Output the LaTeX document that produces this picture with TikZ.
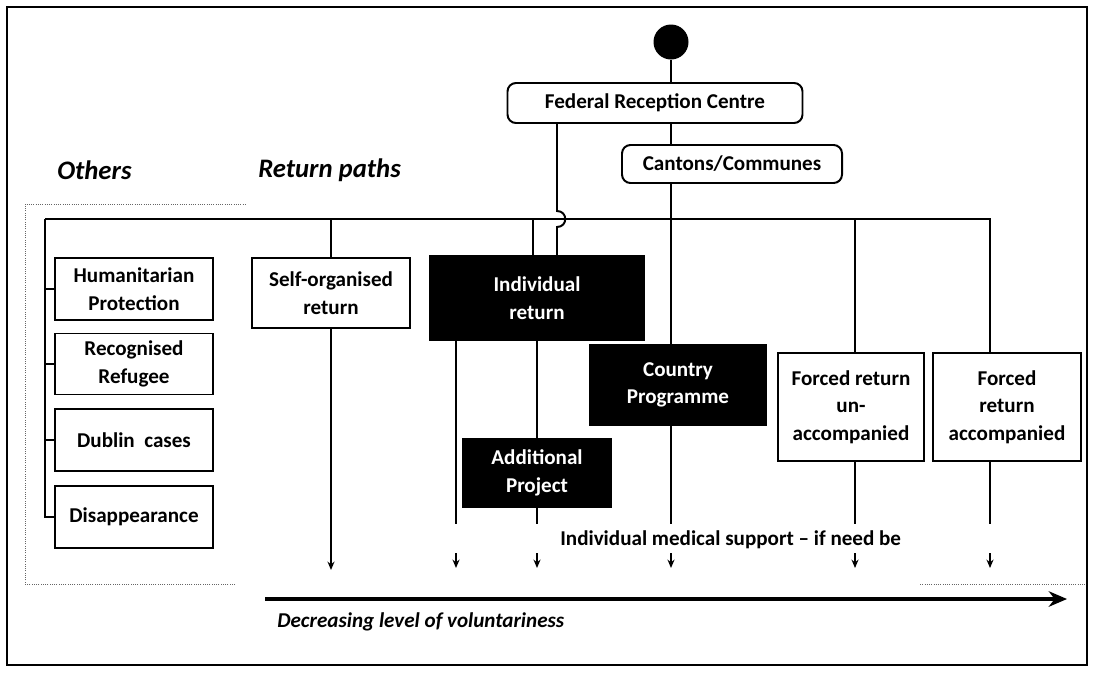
\documentclass[tikz,border=0pt]{standalone}
\usepackage{fontspec}
\setmainfont{Carlito}
\usetikzlibrary{arrows.meta,calc,positioning}

\newcommand\boxfont{\fontsize{15}{19.5}\selectfont\bfseries}
\def\pu{0.025cm}

\begin{document}
\begin{tikzpicture}[x=0.025cm,y=-0.025cm,
    box/.style={draw,line width=1.4pt,align=center,inner sep=1pt,font=\boxfont},
    darkbox/.style={box,fill=black,text=white},
    roundbox/.style={box,rounded corners=6pt},
    wire/.style={line width=1.4pt},
    tip/.style={line width=1.2pt,-{Stealth[length=6pt,width=5pt]}},
    title/.style={font=\fontsize{19}{22}\selectfont\bfseries\itshape,anchor=west,inner sep=0pt},
    faint/.style={densely dotted,line width=0.6pt,black!60}]
    \useasboundingbox (0,0) rectangle (1095,672);
    \draw[line width=1.1pt] (7,7) rectangle (1087,665);
    %% faint inner frame
    \draw[faint] (235,584) -- (25,584) -- (25,204) -- (245,204);
    \draw[faint] (920,584) -- (1086,584);

    %% top of the chart
    \node[circle,fill=black,minimum size=35*\pu,inner sep=0pt] (start) at (671,42) {};
    \node[roundbox,minimum width=295*\pu,minimum height=40*\pu] (frc) at (655,103) {Federal Reception Centre};
    \node[roundbox,minimum width=220*\pu,minimum height=38*\pu] (cant) at (732,164) {Cantons/Communes};

    \node[title] (others) at (57,170) {Others};
    \node[title] (paths) at (258,170) {Return paths};

    %% others
    \node[box,minimum width=158*\pu,minimum height=62*\pu] (hum) at (134,289) {Humanitarian\\Protection};
    \node[box,minimum width=158*\pu,minimum height=61*\pu] (rec) at (134,364) {Recognised\\Refugee};
    \node[box,minimum width=158*\pu,minimum height=62*\pu] (dub) at (134,440) {Dublin\ \ cases};
    \node[box,minimum width=158*\pu,minimum height=62*\pu] (dis) at (134,517) {Disappearance};

    %% return paths
    \node[box,minimum width=158*\pu,minimum height=70*\pu] (self) at (331,293) {Self-organised\\return};
    \node[darkbox,minimum width=214*\pu,minimum height=84*\pu] (ind) at (537,298) {Individual\\return};
    \node[darkbox,minimum width=177*\pu,minimum height=81*\pu] (ctry) at (678,385) {Country\\Programme};
    \node[darkbox,minimum width=148*\pu,minimum height=68*\pu] (addp) at (537,473) {Additional\\Project};
    \node[box,minimum width=146*\pu,minimum height=108*\pu] (fru) at (851,407) {Forced return\\un-\\accompanied};
    \node[box,minimum width=148*\pu,minimum height=108*\pu] (fra) at (1007,407) {Forced\\return\\accompanied};

    %% bus line and taps
    \coordinate (busL) at (45,219);
    \coordinate (busR) at (990,219);
    \coordinate (tapS) at (331,219);
    \coordinate (tapI) at (533,219);
    \coordinate (hop) at (557,219);
    \coordinate (tapC) at (671,219);
    \coordinate (tapU) at (855,219);

    \draw[wire] (start) -- (start |- frc.north);
    \draw[wire] (frc.south -| start) -- (cant.north -| start);
    \draw[wire] (cant.south -| start) -- (ctry.north -| start);
    \draw[wire] (busL) -- (busR) -- (fra.north -| busR);
    \draw[wire] (busL) |- (dis.west);
    \draw[wire] (busL |- hum.west) -- (hum.west);
    \draw[wire] (busL |- rec.west) -- (rec.west);
    \draw[wire] (busL |- dub.west) -- (dub.west);
    \draw[wire] (tapS) -- (self.north);
    \draw[wire] (tapI) -- (ind.north -| tapI);
    \draw[wire] (tapU) -- (fru.north -| tapU);
    %% jump over the bus
    \draw[wire] (frc.south -| hop) -- ($(hop)+(0,-8)$) .. controls +(11,0) and +(11,0) .. ($(hop)+(0,8)$) -- (ind.north -| hop);

    %% lines to the bottom
    \coordinate (endA) at (456,524);
    \coordinate (endB) at (537,524);
    \coordinate (endC) at (671,524);
    \coordinate (endD) at (855,524);
    \coordinate (endE) at (990,524);
    \draw[wire] (ind.south -| endA) -- (endA);
    \draw[wire] (ind.south -| endB) -- (addp.north);
    \draw[wire] (addp.south) -- (endB);
    \draw[wire] (ctry.south -| endC) -- (endC);
    \draw[wire] (fru.south -| endD) -- (endD);
    \draw[wire] (fra.south -| endE) -- (endE);
    \draw[wire,tip] (self.south) -- (self.south |- 0,570);
    \foreach \x in {456,537,671,855,990}{
        \draw[tip] (\x,553) -- (\x,568);
    }
    \node[font=\boxfont,anchor=west,inner sep=0pt] (med) at (560,540) {Individual medical support -- if need be};

    %% axis
    \coordinate (axL) at (265,599);
    \coordinate (axR) at (1067,599);
    \draw[line width=2.2pt,-{Stealth[length=13pt,width=11pt]}] (axL) -- (axR);
    \node[font=\fontsize{15}{18}\selectfont\bfseries\itshape,anchor=west,inner sep=0pt] (axlab) at (277,622) {Decreasing level of voluntariness};
\end{tikzpicture}
\end{document}
